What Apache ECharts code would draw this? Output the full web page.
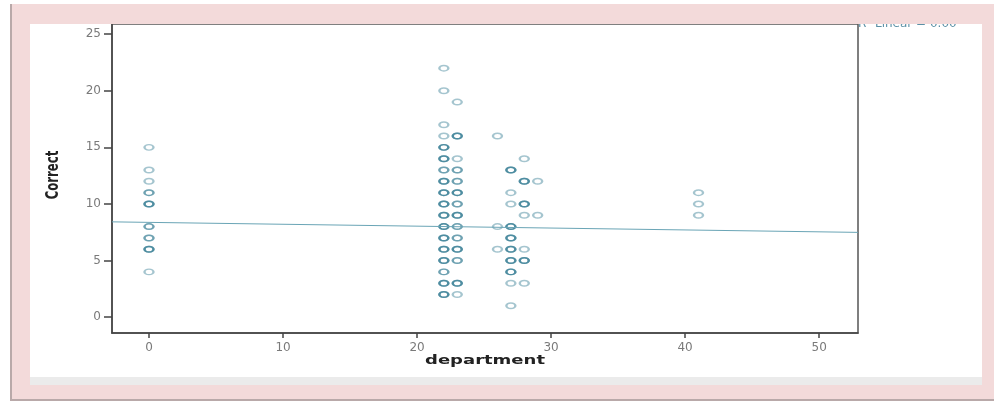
<!DOCTYPE html>
<html>
<head>
<meta charset="utf-8">
<title>Correct by department</title>
<script src="https://cdn.jsdelivr.net/npm/echarts@6/dist/echarts.min.js"></script>
<style>
  html, body { margin: 0; padding: 0; background: #ffffff; }
  #chart { width: 994px; height: 402px; }
</style>
</head>
<body>
<div id="chart"></div>
<script>
// Correct scores per department; repeated values are stacked cases.
const dept0  = [15, 13, 12, 11, 11, 10, 10, 10, 8, 8, 7, 7, 6, 6, 6, 4];
const dept22 = [22, 20, 17, 16, 15, 15, 15, 14, 14, 14, 13, 13, 12, 12, 12, 11, 11, 11,
                10, 10, 10, 9, 9, 9, 8, 8, 8, 7, 7, 7, 6, 6, 6, 5, 5, 5, 4, 4, 3, 3, 3, 2, 2, 2];
const dept23 = [19, 16, 16, 16, 14, 13, 13, 12, 12, 11, 11, 11, 10, 10, 9, 9, 9,
                8, 8, 7, 7, 6, 6, 6, 5, 5, 3, 3, 3, 2];
const dept26 = [16, 8, 6];
const dept27 = [13, 13, 13, 11, 10, 8, 8, 8, 7, 7, 7, 6, 6, 6, 5, 5, 5, 4, 4, 4, 3, 1];
const dept28 = [14, 12, 12, 12, 10, 10, 10, 9, 6, 5, 5, 5, 3];
const dept29 = [12, 9];
const dept41 = [11, 10, 9];

const departments = [0, 22, 23, 26, 27, 28, 29, 41];
const columns = [dept0, dept22, dept23, dept26, dept27, dept28, dept29, dept41];

// Linear fit line, read at both ends of the x range
const fitX = [-2.76, 52.9];
const fitY = [8.42, 7.49];

// Axis ticks
const xTicks = [0, 10, 20, 30, 40, 50];
const yTicks = [0, 5, 10, 15, 20, 25];

const points = [];
departments.forEach((d, i) => {
  columns[i].forEach(v => points.push([d, v]));
});
const fitData = fitX.map((x, i) => [x, fitY[i]]);

const pink = '#f3dada';
const tickFont = 'DejaVu Sans';

const chart = echarts.init(document.getElementById('chart'));
chart.setOption({
  backgroundColor: '#ffffff',
  animation: false,
  grid: {
    left: 112, right: 136, top: 24, bottom: 69,
    show: true, borderColor: '#555', borderWidth: 1.5,
    backgroundColor: 'transparent'
  },
  xAxis: {
    type: 'value',
    min: -2.76, max: 52.9,
    splitLine: { show: false },
    axisLine: { show: true, onZero: false, lineStyle: { color: '#444', width: 1.5 } },
    axisTick: { show: true, customValues: xTicks, length: 5, lineStyle: { color: '#444', width: 1.5 } },
    axisLabel: {
      customValues: xTicks, margin: 9, color: '#7a7a7a',
      fontFamily: tickFont, fontSize: 12
    }
  },
  yAxis: {
    type: 'value',
    min: -1.4, max: 25.9,
    splitLine: { show: false },
    axisLine: { show: true, onZero: false, lineStyle: { color: '#444', width: 1.5 } },
    axisTick: { show: true, customValues: yTicks, length: 8, lineStyle: { color: '#444', width: 1.5 } },
    axisLabel: {
      customValues: yTicks, margin: 11, color: '#7a7a7a',
      fontFamily: tickFont, fontSize: 12
    }
  },
  series: [
    {
      type: 'scatter',
      data: points,
      symbol: 'circle',
      symbolSize: [9, 5.5],
      itemStyle: {
        color: 'rgba(255,255,255,0)',
        borderColor: 'rgba(30,110,135,0.5)',
        borderWidth: 1.9
      },
      emphasis: { disabled: true },
      z: 3
    },
    {
      type: 'line',
      data: fitData,
      showSymbol: false,
      symbol: 'none',
      lineStyle: { color: '#6aa5b6', width: 1 },
      emphasis: { disabled: true },
      z: 4
    }
  ],
  graphic: [
    // page frame behind the plot
    { type: 'rect', z: -10, shape: { x: 10, y: 4, width: 984, height: 397 },
      style: { fill: pink } },
    { type: 'rect', z: -9, shape: { x: 10, y: 4, width: 2, height: 397 },
      style: { fill: '#b9a9a9' } },
    { type: 'rect', z: -9, shape: { x: 10, y: 399, width: 984, height: 2 },
      style: { fill: '#b9a9a9' } },
    { type: 'rect', z: -9, shape: { x: 30, y: 24, width: 952, height: 353 },
      style: { fill: '#ffffff' } },
    { type: 'rect', z: -9, shape: { x: 30, y: 377, width: 952, height: 8 },
      style: { fill: '#ebebeb' } },
    // fit legend text, partly hidden under the frame
    { type: 'text', z: 50, x: 858, y: 30,
      style: { text: 'R\u00b2 Linear = 0.00', font: '12px "DejaVu Sans"', fill: '#5b90a6',
               align: 'left', verticalAlign: 'bottom' } },
    { type: 'rect', z: 100, shape: { x: 12, y: 4, width: 982, height: 20 },
      style: { fill: pink } },
    { type: 'rect', z: 100, shape: { x: 982, y: 4, width: 12, height: 395 },
      style: { fill: pink } },
    // axis titles
    { type: 'text', z: 50, x: 485, y: 361, scaleX: 1.5,
      style: { text: 'department', font: 'bold 12px "DejaVu Sans"', fill: '#222',
               align: 'center', verticalAlign: 'middle' } },
    { type: 'text', z: 50, x: 53, y: 175, rotation: Math.PI / 2, scaleY: 1.35,
      style: { text: 'Correct', font: 'bold 13px "Liberation Sans Narrow", "DejaVu Sans Condensed", sans-serif',
               fill: '#222', align: 'center', verticalAlign: 'middle' } }
  ]
});
</script>
</body>
</html>
